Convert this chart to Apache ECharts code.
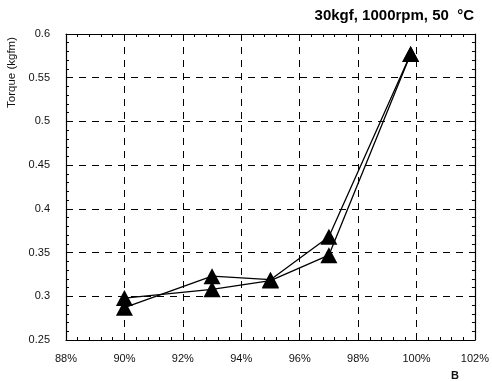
<!DOCTYPE html>
<html>
<head>
<meta charset="utf-8">
<script src="https://cdn.jsdelivr.net/npm/echarts@6/dist/echarts.min.js"></script>
<style>
  html, body { margin: 0; padding: 0; background: #fff; }
  #chart { width: 492px; height: 381px; }
</style>
</head>
<body>
<div id="chart"></div>
<script>
// B ratio (%) and measured torque (kgfm), two runs
const bValues = [90, 93, 95, 97, 99.8];
const torqueRunA = [0.287, 0.323, 0.319, 0.368, 0.577];
const torqueRunB = [0.298, 0.308, 0.318, 0.347, 0.577];

const chart = echarts.init(document.getElementById('chart'), null, { renderer: 'canvas' });

const font = 'Liberation Sans, Arial, sans-serif';
const toPairs = (ys) => bValues.map((x, i) => [x, ys[i]]);

const lineSeries = (name, ys) => ({
  name: name,
  type: 'line',
  data: toPairs(ys),
  symbol: 'triangle',
  symbolSize: [17, 16],
  itemStyle: { color: '#000' },
  lineStyle: { color: '#000', width: 1.3 },
  animation: false
});

const option = {
  backgroundColor: '#fff',
  title: {
    text: '30kgf, 1000rpm, 50  °C',
    right: 13,
    top: 3,
    textStyle: { fontFamily: font, fontSize: 15, fontWeight: 'bold', color: '#000' }
  },
  graphic: [{
    type: 'text',
    left: 6,
    top: 37,
    rotation: Math.PI / 2,
    style: { text: 'Torque (kgfm)', font: '11.5px ' + font, fill: '#111' }
  }],
  grid: { left: 66, right: 12, top: 34, bottom: 41 },
  xAxis: [{
    type: 'value',
    min: 88,
    max: 102,
    interval: 2,
    name: 'B',
    nameLocation: 'end',
    nameGap: -24,
    nameTextStyle: { fontFamily: font, fontSize: 11, fontWeight: 'bold', color: '#111', verticalAlign: 'top', padding: [30, 0, 0, 0] },
    axisLine: { lineStyle: { color: '#000', width: 1.2 } },
    axisTick: { inside: true, length: 5, lineStyle: { color: '#000' } },
    minorTick: { show: true, splitNumber: 5, length: 3, lineStyle: { color: '#000' } },
    axisLabel: { formatter: '{value}%', margin: 13, fontFamily: font, fontSize: 11, color: '#111' },
    splitLine: { show: true, lineStyle: { color: '#000', type: [7, 6], width: 1 } }
  }, {
    type: 'value',
    position: 'top',
    min: 88,
    max: 102,
    interval: 2,
    axisLine: { show: true, lineStyle: { color: '#000', width: 1.2 } },
    axisTick: { show: true, inside: true, length: 5, lineStyle: { color: '#000' } },
    minorTick: { show: true, splitNumber: 5, length: 3, lineStyle: { color: '#000' } },
    axisLabel: { show: false },
    splitLine: { show: false }
  }],
  yAxis: [{
    type: 'value',
    min: 0.25,
    max: 0.6,
    interval: 0.05,
    axisLine: { show: true, lineStyle: { color: '#000', width: 1.2 } },
    axisTick: { show: true, inside: true, length: 5, lineStyle: { color: '#000' } },
    minorTick: { show: true, splitNumber: 5, length: 3, lineStyle: { color: '#000' } },
    axisLabel: {
      margin: 16,
      fontFamily: font,
      fontSize: 11,
      color: '#111',
      formatter: (v) => String(parseFloat(v.toFixed(2)))
    },
    splitLine: { show: true, lineStyle: { color: '#000', type: [7, 6], width: 1 } }
  }, {
    type: 'value',
    position: 'right',
    min: 0.25,
    max: 0.6,
    interval: 0.05,
    axisLine: { show: true, lineStyle: { color: '#000', width: 1.2 } },
    axisTick: { show: true, inside: true, length: 5, lineStyle: { color: '#000' } },
    minorTick: { show: true, splitNumber: 5, length: 3, lineStyle: { color: '#000' } },
    axisLabel: { show: false },
    splitLine: { show: false }
  }],
  series: [
    lineSeries('Run A', torqueRunA),
    lineSeries('Run B', torqueRunB)
  ]
};

chart.setOption(option);
</script>
</body>
</html>
